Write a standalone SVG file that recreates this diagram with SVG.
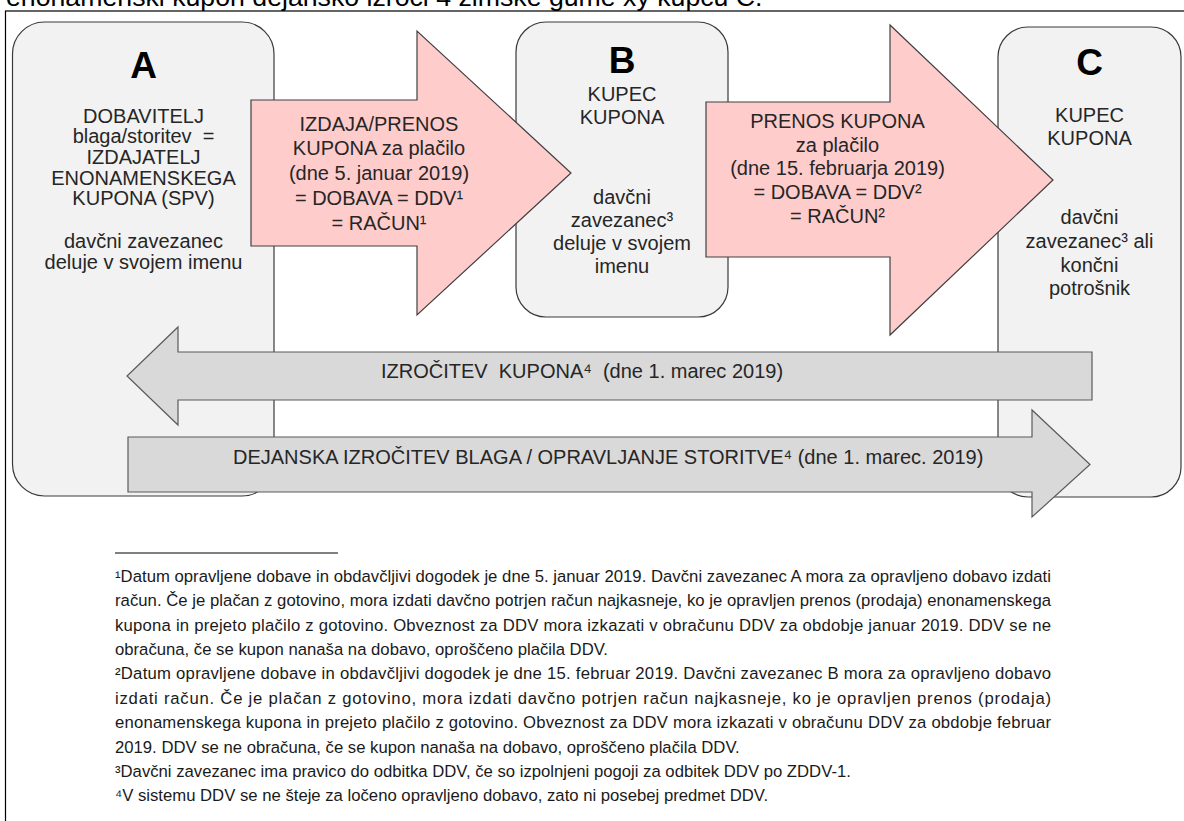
<svg xmlns="http://www.w3.org/2000/svg" width="1184" height="821" viewBox="0 0 1184 821">
  <style>
    text { font-family: "Liberation Sans", Arial, sans-serif; }
    .box { fill: #f2f2f2; stroke: #3a3a3a; stroke-width: 1.2; }
    .flow { fill: #ffcccc; stroke: #404040; stroke-width: 1.2; }
    .back { fill: #d9d9d9; stroke: #5a5a5a; stroke-width: 1.2; }
    .letter { font-size: 37px; font-weight: bold; fill: #000; text-anchor: middle; }
    .lbl { font-size: 20px; fill: #262626; text-anchor: middle; }
    .lbl-s { font-size: 20px; fill: #262626; }
    .note { font-size: 16.7px; fill: #1a1a1a; }
    .head { font-size: 26.7px; fill: #000; }
  </style>

  <!-- page frame and running text line -->
  <rect x="5.5" y="11" width="1200" height="900" fill="#fff" stroke="#000" stroke-width="1.2"/>
  <text class="head" x="6" y="6">enonamenski kupon dejansko izroči 4 zimske gume xy kupcu C.</text>

  <!-- parties -->
  <g id="node-a">
    <rect class="box" x="12.5" y="22" width="261.5" height="474" rx="32"/>
    <text class="letter" x="143.5" y="78">A</text>
    <text class="lbl" x="143.5" y="122.7">DOBAVITELJ</text>
    <text class="lbl" x="143.5" y="143.3" xml:space="preserve">blaga/storitev  =</text>
    <text class="lbl" x="143.5" y="164">IZDAJATELJ</text>
    <text class="lbl" x="143.5" y="184.5">ENONAMENSKEGA</text>
    <text class="lbl" x="143.5" y="205">KUPONA (SPV)</text>
    <text class="lbl" x="143.5" y="248">davčni zavezanec</text>
    <text class="lbl" x="143.5" y="269">deluje v svojem imenu</text>
  </g>

  <g id="node-b">
    <rect class="box" x="516" y="22" width="212" height="295" rx="30"/>
    <text class="letter" x="622" y="73.3">B</text>
    <text class="lbl" x="622" y="101">KUPEC</text>
    <text class="lbl" x="622" y="124.3">KUPONA</text>
    <text class="lbl" x="622" y="204">davčni</text>
    <text class="lbl" x="622" y="227">zavezanec³</text>
    <text class="lbl" x="622" y="250">deluje v svojem</text>
    <text class="lbl" x="622" y="273">imenu</text>
  </g>

  <g id="node-c">
    <rect class="box" x="998" y="27" width="183" height="470" rx="30"/>
    <text class="letter" x="1089.5" y="75">C</text>
    <text class="lbl" x="1089.5" y="121.7">KUPEC</text>
    <text class="lbl" x="1089.5" y="145">KUPONA</text>
    <text class="lbl" x="1089.5" y="224">davčni</text>
    <text class="lbl" x="1089.5" y="248">zavezanec³ ali</text>
    <text class="lbl" x="1089.5" y="271.7">končni</text>
    <text class="lbl" x="1089.5" y="295">potrošnik</text>
  </g>

  <!-- transfers between the parties -->
  <g id="connectors">
    <g id="flow-a-b">
      <polygon class="flow" points="251,100 417,100 417,31 571,173 417,315 417,246 251,246"/>
      <text class="lbl" x="379" y="130.5">IZDAJA/PRENOS</text>
      <text class="lbl" x="379" y="155.3">KUPONA za plačilo</text>
      <text class="lbl" x="379" y="180.1">(dne 5. januar 2019)</text>
      <text class="lbl" x="379" y="204.9">= DOBAVA = DDV¹</text>
      <text class="lbl" x="379" y="229.7">= RAČUN¹</text>
    </g>
    <g id="flow-b-c">
      <polygon class="flow" points="706,102 890,102 890,25 1053,180 890,335 890,257 706,257"/>
      <text class="lbl" x="837.5" y="128">PRENOS KUPONA</text>
      <text class="lbl" x="837.5" y="151.7">za plačilo</text>
      <text class="lbl" x="837.5" y="175.4">(dne 15. februarja 2019)</text>
      <text class="lbl" x="837.5" y="199.1">= DOBAVA = DDV²</text>
      <text class="lbl" x="837.5" y="222.8">= RAČUN²</text>
    </g>
    <g id="flow-c-a">
      <polygon class="back" points="1092,352 178,352 178,327 127,376 178,425 178,400 1092,400"/>
      <text class="lbl-s" x="381" y="378" xml:space="preserve">IZROČITEV  KUPONA⁴  (dne 1. marec 2019)</text>
    </g>
    <g id="flow-a-c">
      <polygon class="back" points="128,437 1032,437 1032,410 1090,464.5 1032,517 1032,492 128,492"/>
      <text class="lbl-s" x="233" y="464">DEJANSKA IZROČITEV BLAGA / OPRAVLJANJE STORITVE⁴ (dne 1. marec. 2019)</text>
    </g>
  </g>

  <!-- footnotes -->
  <g id="footnotes">
    <line x1="115" y1="553" x2="338" y2="553" stroke="#000" stroke-width="1"/>
    <text class="note" x="115" y="582" textLength="936" lengthAdjust="spacing">¹Datum opravljene dobave in obdavčljivi dogodek je dne 5. januar 2019. Davčni zavezanec A mora za opravljeno dobavo izdati</text>
    <text class="note" x="115" y="606.4" textLength="936" lengthAdjust="spacing">račun. Če je plačan z gotovino, mora izdati davčno potrjen račun najkasneje, ko je opravljen prenos (prodaja) enonamenskega</text>
    <text class="note" x="115" y="630.7" textLength="936" lengthAdjust="spacing">kupona in prejeto plačilo z gotovino. Obveznost za DDV mora izkazati v obračunu DDV za obdobje januar 2019. DDV se ne</text>
    <text class="note" x="115" y="655.1">obračuna, če se kupon nanaša na dobavo, oproščeno plačila DDV.</text>
    <text class="note" x="115" y="679.4" textLength="936" lengthAdjust="spacing">²Datum opravljene dobave in obdavčljivi dogodek je dne 15. februar 2019. Davčni zavezanec B mora za opravljeno dobavo</text>
    <text class="note" x="115" y="703.8" textLength="936" lengthAdjust="spacing">izdati račun. Če je plačan z gotovino, mora izdati davčno potrjen račun najkasneje, ko je opravljen prenos (prodaja)</text>
    <text class="note" x="115" y="728.1" textLength="936" lengthAdjust="spacing">enonamenskega kupona in prejeto plačilo z gotovino. Obveznost za DDV mora izkazati v obračunu DDV za obdobje februar</text>
    <text class="note" x="115" y="752.5">2019. DDV se ne obračuna, če se kupon nanaša na dobavo, oproščeno plačila DDV.</text>
    <text class="note" x="115" y="776.8">³Davčni zavezanec ima pravico do odbitka DDV, če so izpolnjeni pogoji za odbitek DDV po ZDDV-1.</text>
    <text class="note" x="115" y="801.2">⁴V sistemu DDV se ne šteje za ločeno opravljeno dobavo, zato ni posebej predmet DDV.</text>
  </g>
</svg>
